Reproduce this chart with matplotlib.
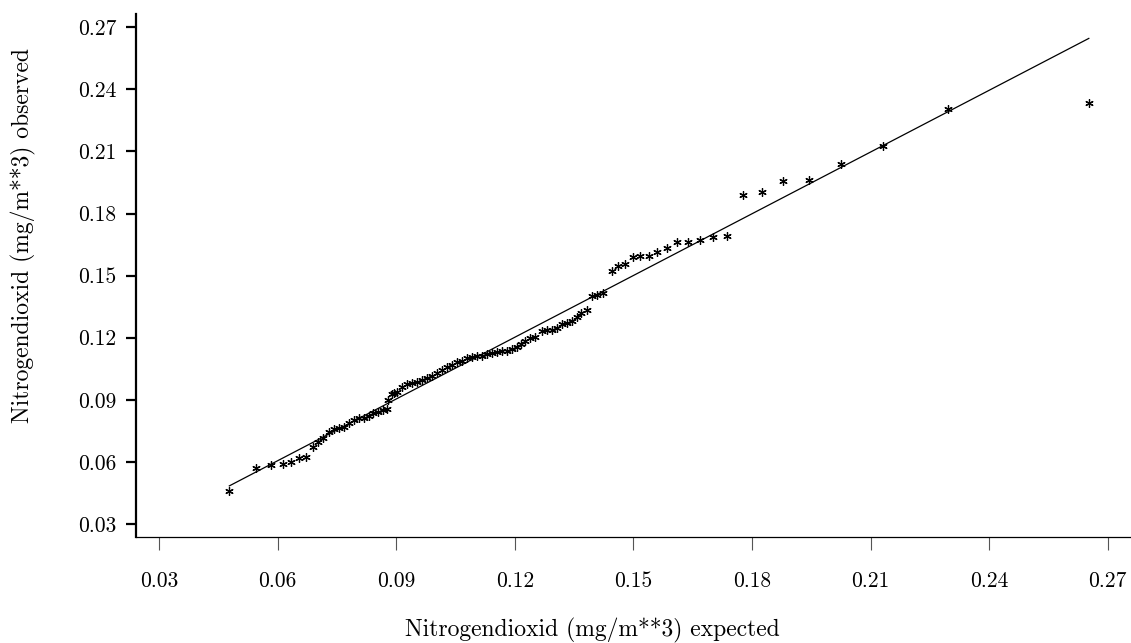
import matplotlib
matplotlib.use("Agg")
import matplotlib.pyplot as plt

plt.rcParams['font.family'] = ['cmr10', 'DejaVu Serif']
plt.rcParams['axes.formatter.use_mathtext'] = True

expected = [0.0478, 0.0545, 0.0583, 0.0613, 0.0634, 0.0654, 0.0672, 0.0689,
            0.0703, 0.0716, 0.0731, 0.0743, 0.0756, 0.0769, 0.0781, 0.0794,
            0.0807, 0.0819, 0.0832, 0.0842, 0.0855, 0.0867, 0.0876, 0.0880,
            0.0889, 0.0894, 0.0901, 0.0914, 0.0927, 0.0939, 0.0952, 0.0965,
            0.0977, 0.0990, 0.1003, 0.1015, 0.1028, 0.1040, 0.1053, 0.1066,
            0.1078, 0.1091, 0.1104, 0.1116, 0.1129, 0.1142, 0.1154, 0.1167,
            0.1180, 0.1192, 0.1205, 0.1216, 0.1226, 0.1238, 0.1251, 0.1268,
            0.1281, 0.1293, 0.1306, 0.1319, 0.1331, 0.1344, 0.1357, 0.1367,
            0.1382, 0.1395, 0.1407, 0.1423, 0.1445, 0.1462, 0.1479, 0.1498,
            0.1518, 0.1539, 0.1561, 0.1586, 0.1611, 0.1639, 0.1669, 0.1701,
            0.1738, 0.1778, 0.1825, 0.1878, 0.1943, 0.2025, 0.2132, 0.2297,
            0.2652]
observed = [0.0461, 0.0571, 0.0586, 0.0591, 0.0601, 0.0617, 0.0624, 0.0673,
            0.0698, 0.0715, 0.0742, 0.0761, 0.0765, 0.0770, 0.0786, 0.0802,
            0.0811, 0.0814, 0.0823, 0.0834, 0.0843, 0.0851, 0.0854, 0.0899,
            0.0928, 0.0933, 0.0939, 0.0963, 0.0976, 0.0982, 0.0987, 0.0996,
            0.1007, 0.1016, 0.1028, 0.1044, 0.1057, 0.1068, 0.1081, 0.1089,
            0.1100, 0.1108, 0.1112, 0.1112, 0.1121, 0.1125, 0.1131, 0.1136,
            0.1134, 0.1144, 0.1157, 0.1170, 0.1186, 0.1197, 0.1205, 0.1232,
            0.1237, 0.1235, 0.1245, 0.1265, 0.1270, 0.1282, 0.1299, 0.1321,
            0.1334, 0.1400, 0.1406, 0.1418, 0.1522, 0.1548, 0.1555, 0.1588,
            0.1595, 0.1596, 0.1615, 0.1633, 0.1662, 0.1664, 0.1674, 0.1685,
            0.1691, 0.1889, 0.1902, 0.1957, 0.1962, 0.2038, 0.2126, 0.2303,
            0.2335]

# reference line end points
line_x = [0.0478, 0.2652]
line_y = [0.0484, 0.2646]

ticks = [0.03, 0.06, 0.09, 0.12, 0.15, 0.18, 0.21, 0.24, 0.27]
tick_labels = ['0.03', '0.06', '0.09', '0.12', '0.15', '0.18', '0.21', '0.24', '0.27']

fig = plt.figure(figsize=(11.31, 6.43), dpi=100)
ax = fig.add_axes([0.1202, 0.1649, 0.8798, 0.8133])

ax.plot(line_x, line_y, color='black', lw=0.9)
ax.plot(expected, observed, ls='none', marker=(6, 2, 0), ms=6,
        mew=0.9, color='black')

ax.set_xlim(0.02418, 0.27587)
ax.set_ylim(0.02372, 0.27638)
ax.set_xticks(ticks)
ax.set_xticklabels(tick_labels)
ax.set_yticks(ticks)
ax.set_yticklabels(tick_labels)

for side in ['top', 'right']:
    ax.spines[side].set_visible(False)
ax.spines['left'].set_linewidth(1.6)
ax.spines['bottom'].set_linewidth(0.9)

ax.tick_params(axis='y', direction='out', length=7, width=1.6, pad=7,
               labelsize=15.5)
ax.tick_params(axis='x', direction='out', length=9.5, width=0.8,
               color='#555555', pad=15, labelsize=15.5)

fig.text(0.021, 0.925, 'Nitrogendioxid (mg/m**3) observed', fontsize=17,
         rotation=90, ha='center', va='top')
fig.text(0.358, 0.0098, 'Nitrogendioxid (mg/m**3) expected', fontsize=17,
         ha='left', va='baseline')

fig.savefig('out.png', dpi=100)
